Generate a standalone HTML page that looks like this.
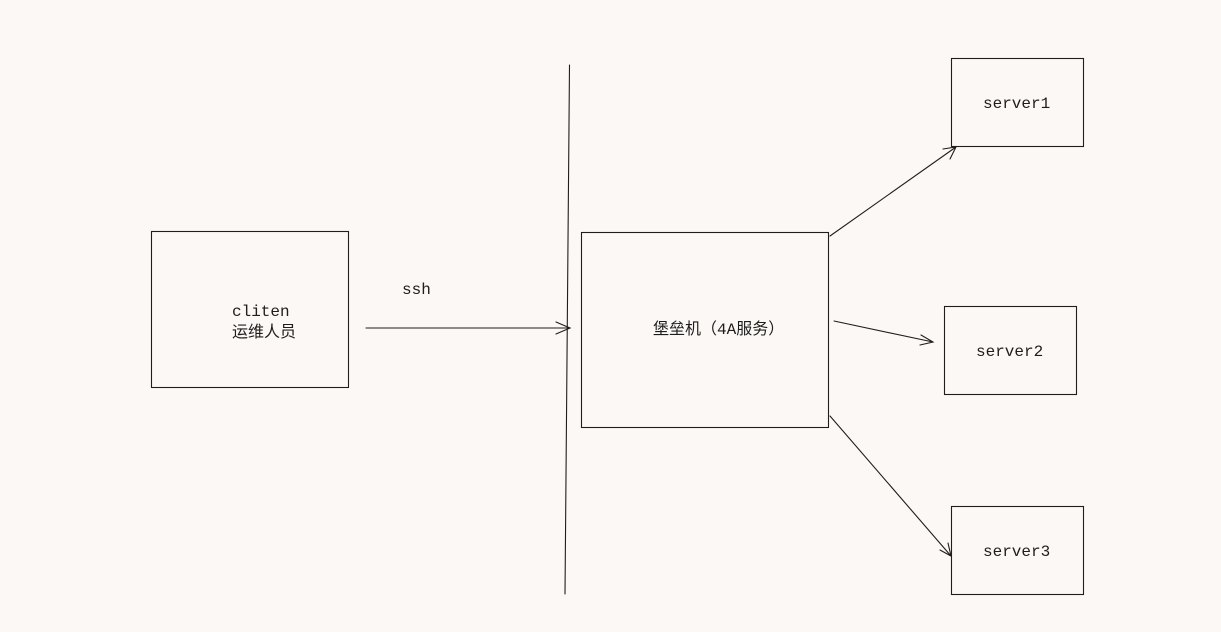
<!DOCTYPE html>
<html><head><meta charset="utf-8"><style>
html,body{margin:0;padding:0;background:#fcf8f5;}
svg{display:block}
text{font-family:"Liberation Mono","Noto Sans CJK SC",monospace;font-size:16px;fill:#1e1e1e}
</style></head><body>
<svg width="1221" height="632" viewBox="0 0 1221 632" xmlns="http://www.w3.org/2000/svg">
<rect width="1221" height="632" fill="#fcf8f5"/>
<g fill="none" stroke="#1e1e1e" stroke-width="1.1" stroke-linecap="round">
<rect x="151.5" y="231.5" width="197" height="156"/>
<rect x="581.5" y="232.5" width="247" height="195"/>
<rect x="951.5" y="58.5" width="132" height="88"/>
<rect x="944.5" y="306.5" width="132" height="88"/>
<rect x="951.5" y="506.5" width="132" height="88"/>
<path d="M569.5 65 L565 594"/>
<path d="M366 328 L570 328 M556 322 L570 328 L556 334"/>
<path d="M830 236 L956 147 M943 149 L956 147 L950 159"/>
<path d="M834 321 L933 342 M921 335 L933 342 L920 345"/>
<path d="M830 416 L951 556 M940 550 L951 556 L948 543"/>
</g>
<text x="232" y="316">cliten</text>
<text x="232" y="337">运维人员</text>
<text x="402" y="294">ssh</text>
<text x="653" y="334">堡垒机（4A服务）</text>
<text x="983" y="108">server1</text>
<text x="976" y="356">server2</text>
<text x="983" y="556">server3</text>
</svg>
</body></html>
